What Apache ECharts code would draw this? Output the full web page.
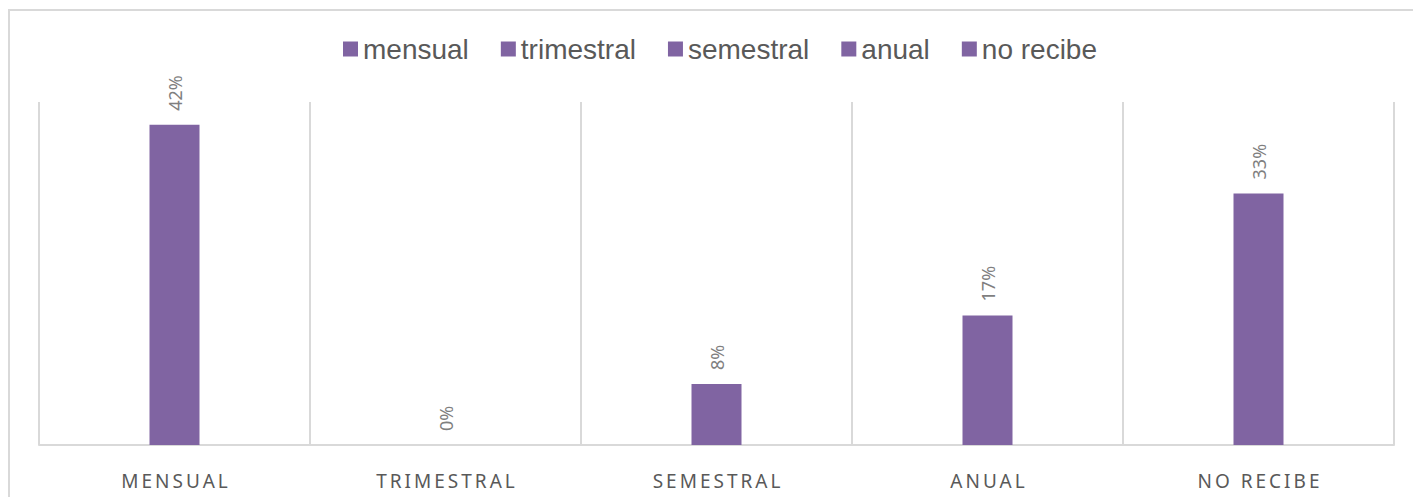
<!DOCTYPE html>
<html>
<head>
<meta charset="utf-8">
<script src="https://cdn.jsdelivr.net/npm/echarts@6/dist/echarts.min.js"></script>
<style>
  html, body { margin: 0; padding: 0; background: #ffffff; }
  #chart { width: 1413px; height: 497px; }
</style>
</head>
<body>
<div id="chart"></div>
<script>
// Payment frequency shares (percent)
const categoryLabels = ['MENSUAL', 'TRIMESTRAL', 'SEMESTRAL', 'ANUAL', 'NO RECIBE'];
const legendNames = ['mensual', 'trimestral', 'semestral', 'anual', 'no recibe'];
const shares = [42, 0, 8, 17, 33];

const BAR_COLOR = '#8064a2';
const GRID_COLOR = '#d9d9d9';
const AXIS_LETTER_SPACING = 3;

const chart = echarts.init(document.getElementById('chart'), null, { renderer: 'svg' });

// Spread the category labels out letter by letter
chart.on('finished', () => {
  chart.getDom().querySelectorAll('text').forEach(t => {
    if (categoryLabels.includes(t.textContent) && !t.dataset.spaced) {
      t.setAttribute('letter-spacing', AXIS_LETTER_SPACING);
      t.setAttribute('dx', AXIS_LETTER_SPACING / 2);
      t.dataset.spaced = '1';
    }
  });
});

// One stacked series per category so that each gets its own legend entry
const series = legendNames.map((name, i) => ({
  name: name,
  type: 'bar',
  stack: 'total',
  barWidth: 50,
  itemStyle: { color: BAR_COLOR },
  data: shares.map((v, j) => (j === i ? v : null)),
  label: {
    show: true,
    position: 'top',
    rotate: 90,
    align: 'left',
    verticalAlign: 'middle',
    distance: 14,
    fontFamily: '"Noto Sans", sans-serif',
    fontSize: 18,
    color: '#7f7f7f',
    formatter: p => p.value + '%'
  }
}));

chart.setOption({
  animation: false,
  backgroundColor: '#ffffff',
  graphic: [{
    type: 'rect',
    silent: true,
    shape: { x: 9, y: 10, width: 1420, height: 500 },
    style: { fill: 'none', stroke: GRID_COLOR, lineWidth: 2 }
  }],
  legend: {
    data: legendNames,
    left: 338,
    top: 30,
    icon: 'rect',
    itemWidth: 15,
    itemHeight: 15,
    itemGap: 32,
    textStyle: {
      fontFamily: '"Liberation Sans", Arial, sans-serif',
      fontSize: 28,
      color: '#595959'
    }
  },
  grid: { left: 39, right: 19, top: 102, bottom: 52, containLabel: false },
  xAxis: {
    type: 'category',
    data: categoryLabels,
    boundaryGap: true,
    axisTick: { show: false },
    axisLine: { show: true, lineStyle: { color: GRID_COLOR, width: 2 } },
    splitLine: { show: true, lineStyle: { color: GRID_COLOR, width: 2 } },
    axisLabel: {
      margin: 26,
      fontFamily: '"Noto Sans", sans-serif',
      fontSize: 19,
      color: '#595959'
    }
  },
  yAxis: {
    type: 'value',
    min: 0,
    max: 45,
    show: false,
    splitLine: { show: false }
  },
  series: series
});
</script>
</body>
</html>
